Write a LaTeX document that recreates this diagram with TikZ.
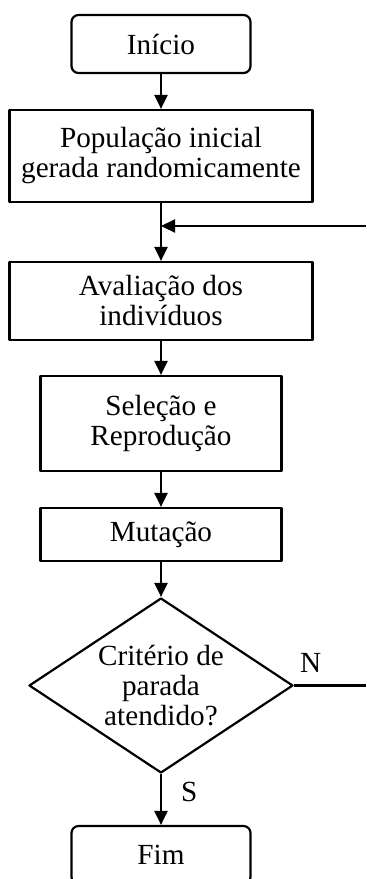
\documentclass[tikz,border=0pt]{standalone}
\usepackage{fontspec}
\setmainfont{Liberation Serif}
\usetikzlibrary{arrows.meta,shapes.geometric}
\begin{document}
\begin{tikzpicture}[x=0.5pt,y=-0.5pt,line join=round,line width=1.1pt,
	>={Triangle[length=7pt,width=6.5pt]},
	every node/.style={font=\fontsize{14.6}{15}\selectfont,align=center,inner sep=0pt},
	bloco/.style={draw,line width=1.1pt,rectangle},
	terminal/.style={bloco,rounded corners=3.5pt,minimum width=89.5pt,minimum height=29pt},
	decisao/.style={draw,line width=1.1pt,diamond,aspect=1.51,minimum width=132pt,minimum height=87.5pt}]
	\def\cx{161} \def\xd{366} \def\yv{226} % eixo e retorno
	\useasboundingbox (0,0) rectangle (366,879);
	\clip (0,0) rectangle (366,879);
	\node[terminal] (inicio) at (\cx,44) {Início};
	\node[bloco,minimum width=151.5pt,minimum height=46pt] (pop) at (\cx,156) {População inicial\\gerada randomicamente};
	\node[bloco,minimum width=151.5pt,minimum height=39pt] (aval) at (\cx,301) {Avaliação dos\\indivíduos};
	\node[bloco,minimum width=120.5pt,minimum height=47.5pt] (sel) at (\cx,423.5) {Seleção e\\Reprodução};
	\node[bloco,minimum width=120.5pt,minimum height=26.5pt] (mut) at (\cx,534.5) {Mutação};
	\node[decisao] (crit) at (\cx,685.5) {Critério de\\parada\\atendido?};
	\node[terminal] (fim) at (\cx,855) {Fim};
	\coordinate (ret) at (\xd,\yv);
	\coordinate (junta) at (\cx,\yv);
	\coordinate (saida) at (\xd,685.5);
	\draw[->] (inicio)--(pop);
	\draw[->] (pop)--(aval);
	\draw[->] (ret)--(junta);
	\draw[->] (aval)--(sel);
	\draw[->] (sel)--(mut);
	\draw[->] (mut)--(crit);
	\draw (crit)-- node[pos=0.23,above=6pt] (lblN) {N} (saida);
	\draw[->] (crit)-- node[pos=0.36,right=9.5pt] (lblS) {S} (fim);
\end{tikzpicture}
\end{document}
